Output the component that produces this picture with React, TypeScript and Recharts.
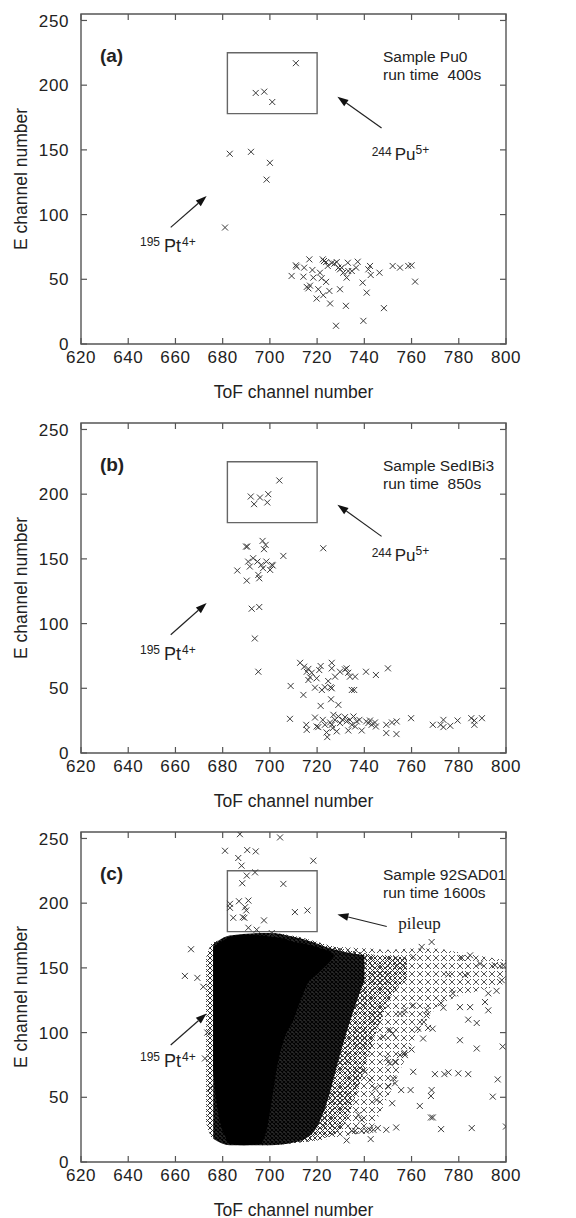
import React from "react";
import {
  Area, ComposedChart, ReferenceArea, ReferenceDot, ReferenceLine, Scatter, XAxis, YAxis,
} from "recharts";

const FONT = '"Liberation Sans", Arial, Helvetica, sans-serif';
const INK = "#222";
const FRAME = "#555";

const TOF_TICKS = [620, 640, 660, 680, 700, 720, 740, 760, 780, 800];
const E_TICKS = [0, 50, 100, 150, 200, 250];
const TOF_DOMAIN: [number, number] = [620, 800];
const E_DOMAIN: [number, number] = [0, 255];

// ROI box around the 244Pu5+ window (ToF, E)
const ROI_TOF = [682, 720];
const ROI_E = [178, 225];

// (a) Sample Pu0, 400 s — [ToF, E]
const PU0_PTS: [number, number][] = [
  [711, 217], [694, 194], [697.6, 195], [701, 187], [683, 147], [692, 148.5], [700, 140], [698.6, 127], [681, 90],
  [709.2, 52.6], [711.3, 59.7], [711, 60.8], [714.5, 59], [714.2, 52], [716.7, 65.4], [715.6, 44.1], [716.3, 43],
  [717, 45.1], [718, 57.2], [718.4, 51.3], [719.8, 35.1], [720.5, 42.3], [721.2, 55.1], [721.9, 50.8], [722.4, 65.4],
  [722.9, 64.1], [723.8, 63.3], [723.8, 48], [722.6, 37.7], [724.5, 60.3], [725.2, 41], [725.5, 31.3], [726.2, 62.6],
  [727.3, 62.1], [728, 14.1], [728.3, 63.3], [729, 59], [729.7, 57.7], [729.7, 42.3], [730.4, 59], [731.1, 55.1],
  [732.5, 51.3], [732.2, 29.5], [733, 62.8], [733.2, 56.4], [734.7, 56.4], [736.5, 59], [737.2, 63.6], [739.3, 47.4],
  [739.6, 17.9], [741, 39.7], [741.7, 57.7], [742.4, 60.3], [742.7, 53.3], [746.4, 55.1], [748.3, 27.7], [752, 60.3],
  [755.1, 59], [758.6, 60.3], [760, 60.8], [761.5, 48.2],
];

// (b) Sample SedIBi3, 850 s
const SEDIBI3_PTS: [number, number][] = [
  [704, 210.6], [691.9, 198.2], [693.3, 192.3], [695.8, 197.4], [699.3, 200], [698.9, 193.6],
  [689.9, 159.5], [690.4, 159.5], [696.9, 163.9], [698.2, 160.8], [697.5, 157.5], [705.7, 152.3], [722.6, 158.2],
  [686.2, 141], [690.2, 133.2], [690.8, 147.9], [691.5, 144.1], [692.9, 150.5], [694.7, 147.9], [695.1, 137.6],
  [695.5, 135], [696.4, 145.4], [697.1, 142.8], [698.5, 147.9], [700.8, 145.4], [701.2, 144.9], [700.1, 141.5],
  [692.3, 111.5], [695.5, 112.8], [693.6, 88.5], [695.1, 62.8],
  [708.8, 51.8], [714.2, 44.9], [712.8, 69.7], [714.5, 66.7], [715.6, 62.8], [716.3, 56.4], [717, 58.5], [716.3, 65],
  [717.7, 62], [719.1, 50.5], [719.8, 57.7], [720.9, 64.1], [721.5, 67.2], [722, 48.7], [721.5, 36.4], [723.3, 50.8],
  [724.7, 55.6], [726.2, 69.7], [726.2, 65.4], [725.7, 50.8], [726.2, 50], [725.9, 41.5], [727.6, 59], [729, 37.2],
  [729.7, 62.8], [731.8, 64.6], [732.5, 65.4], [733.2, 62], [733.9, 59], [734.7, 48.7], [735.7, 48.7], [736.1, 59],
  [740.7, 62.8], [744.9, 60.3], [750, 65.4],
  [708.5, 26.4], [715.4, 21.8], [715.6, 17.9], [719.1, 27.4], [719.8, 20.5], [720.5, 20], [722.4, 25.6], [723.3, 21.8],
  [724, 15.9], [724.3, 12.3], [725.5, 23.6], [726.2, 21.8], [726.6, 19.2], [726.9, 29.5], [727.6, 25.6], [728.3, 16.7],
  [729, 28.2], [729.7, 23.1], [730.8, 25.6], [731.8, 27.7], [732.5, 24.4], [733.2, 17.4], [733.9, 25.6], [734.7, 21.8],
  [735.4, 28.2], [736.1, 20.5], [736.8, 24.4], [737.9, 25.6], [738.9, 17.4], [740.8, 24.4], [741.7, 23.1], [742.4, 25.1],
  [743.1, 21.8], [744.5, 23.6], [744.9, 20.5], [749.3, 21.8], [749.3, 15.4], [751.7, 23.6], [753.6, 14.6], [753.7, 24.4],
  [759.8, 26.9], [769, 21.8], [772.3, 21.8], [773.5, 25.6], [773.5, 20], [776.4, 21], [779.5, 25.1], [785.3, 26.9],
  [786.6, 25.1], [786.6, 21.8], [789.8, 26.9],
];

// (c) Sample 92SAD01, 1600 s — isolated events outside the saturated band
const SAD01_PTS: [number, number][] = [
  [681, 240.5], [687.3, 253.3], [686.6, 234.9], [688, 229], [690.4, 241], [694, 240], [693.7, 223.8], [690.2, 221.3],
  [704.3, 250.8], [718.4, 232.8], [705.7, 214.9], [688.3, 215.4], [683.1, 199.5], [683.1, 196.4], [686.9, 201.5],
  [690.9, 202], [689.5, 196.9], [690, 194.4], [684.5, 188.7], [688.5, 189.2], [689.2, 188.7], [697.5, 186.7],
  [710.6, 193.1], [715.9, 194.4], [690.9, 181], [694.4, 179.5], [700.8, 176.9],
  [666.6, 164.4], [664, 143.8], [669.3, 142.3], [671.8, 135.4], [674.9, 56.9], [672.5, 80], [673.5, 100],
  [795.3, 152.1], [798.9, 152.1], [798.2, 140.5], [796, 132.3], [792.5, 130.3], [789, 153.3], [784.8, 159.7],
  [781.3, 157.7], [782.7, 144.4], [775.6, 144.9], [777.5, 130.3], [768.5, 170], [764.3, 166.2], [760.7, 158.5],
  [798.6, 89.2], [796.5, 63.8], [794.4, 50.5], [800, 27.4], [785.5, 26.2], [772.5, 25.4], [787.6, 87.7], [784, 110],
  [787.6, 107.4], [780.5, 94.1], [779.8, 68.5], [784, 67.9], [775.6, 69.2], [773.9, 67.9], [768.2, 34.4], [769, 34.4],
  [768.2, 51], [768.5, 55.6], [763.5, 43.3], [764.9, 95.4], [768.9, 103], [767, 103.6], [769.9, 67.9], [759.6, 55.6],
  [760.7, 69.7], [760, 86.9], [757, 84.4], [755.6, 55.6], [753.5, 26.7], [751.8, 45.4], [749.3, 24.9], [745.7, 26.2],
  [734.7, 24.1], [736.1, 24.1], [738.9, 24.1], [740.8, 24.1], [742.4, 24.9], [743.8, 24.9], [742.7, 17.7], [732.5, 16.7],
  [737.5, 36.4], [738.9, 32.6], [749.5, 80], [750.9, 76.2], [753, 77.4], [755.1, 82.6], [757.2, 82.6], [752.2, 64.6],
  [753, 60.8], [750.2, 58.2], [745.2, 47.9], [744.5, 56.9], [742.4, 63.3], [740.3, 69.7], [748, 96.7], [750.9, 101.8],
  [752, 99.2], [755.1, 114.6], [757.2, 117.2], [760.7, 121], [762.8, 103], [765.2, 108.2], [766.3, 113.3],
  [772.5, 122.8], [773.5, 119.2], [766.6, 117.2], [780.5, 119.7], [784.8, 119.7], [791.1, 123.6], [792.5, 117.2],
];

// (c) saturated band outlines read per ToF channel: [ToF, E low, E high]
const SAD01_CORE: [number, number, number][] = [
  [676, 70, 166], [677.5, 45, 168], [679, 30, 170], [681, 20, 172], [683, 14, 174], [689, 13, 175.6],
  [696, 14, 175], [699, 28, 174.5], [701, 50, 174], [703, 73, 173.5], [706, 95, 172.5], [710, 110, 170],
  [713, 125, 169], [716, 138, 168], [720, 145, 166], [724, 152, 163.6], [727, 158, 161],
];
const SAD01_DARK: [number, number, number][] = [
  [676, 18, 168], [683, 13, 175], [700, 13, 177], [710, 15, 174], [718, 22, 170], [724, 45, 166],
  [730, 85, 163], [736, 120, 161], [740, 140, 160],
];
const SAD01_MID: [number, number, number][] = [
  [673, 30, 158], [676, 18, 170], [700, 13, 177], [712, 15, 174], [722, 18, 169], [730, 25, 165],
  [738, 60, 162], [745, 100, 160], [752, 130, 159], [758, 140, 158],
];
const SAD01_THIN: [number, number, number][] = [
  [712, 15, 172], [722, 17, 168], [732, 20, 166], [742, 25, 165], [750, 50, 164], [760, 90, 165],
  [770, 118, 165], [780, 128, 162], [790, 133, 159], [800, 138, 156],
];

const toRows = (pts: [number, number][]) => pts.map(([tof, e]) => ({ tof, e }));
const toBand = (b: [number, number, number][]) => b.map(([tof, lo, hi]) => ({ tof, band: [lo, hi] }));

function Cross(props: any) {
  const { cx, cy } = props;
  if (cx == null || cy == null) return null;
  const s = 3;
  return (
    <path d={`M${cx - s},${cy - s}L${cx + s},${cy + s}M${cx + s},${cy - s}L${cx - s},${cy + s}`}
      stroke="#3a3a3a" strokeWidth={1} fill="none" />
  );
}

// arrow drawn along a data-space segment, head at the second point
function arrowShape(p: any) {
  const { x1, y1, x2, y2 } = p;
  const a = Math.atan2(y2 - y1, x2 - x1);
  const L = 11, W = 3.8;
  const bx = x2 - L * Math.cos(a), by = y2 - L * Math.sin(a);
  const nx = -Math.sin(a) * W, ny = Math.cos(a) * W;
  return (
    <g>
      <line x1={x1} y1={y1} x2={bx} y2={by} stroke={INK} strokeWidth={1.2} />
      <polygon points={`${x2},${y2} ${bx + nx},${by + ny} ${bx - nx},${by - ny}`} fill="#111" />
    </g>
  );
}

// inward ticks on both opposite sides of the frame
const xTickShape = (p: any) => {
  const top = Math.min(p.y1, p.y2), bot = Math.max(p.y1, p.y2);
  return (
    <g stroke={FRAME} strokeWidth={1.2}>
      <line x1={p.x1} y1={top} x2={p.x1} y2={top + 6} />
      <line x1={p.x1} y1={bot - 6} x2={p.x1} y2={bot} />
    </g>
  );
};
const yTickShape = (p: any) => {
  const l = Math.min(p.x1, p.x2), r = Math.max(p.x1, p.x2);
  return (
    <g stroke={FRAME} strokeWidth={1.2}>
      <line x1={l} y1={p.y1} x2={l + 6} y2={p.y1} />
      <line x1={r - 6} y1={p.y1} x2={r} y2={p.y1} />
    </g>
  );
};

interface PanelProps {
  top: number;
  tag: string;
  sample: string;
  runTime: string;
  pts: [number, number][];
  ptArrow: [number, number, number, number];
  ptLabel: [number, number];
  target: "pu" | "pileup";
  tArrow: [number, number, number, number];
  tLabel: [number, number];
  bands?: boolean;
}

function Panel(p: PanelProps) {
  const data = toRows(p.pts);
  return (
    <div style={{ position: "absolute", left: 0, top: p.top }}>
      <ComposedChart width={576} height={409} margin={{ top: 14, right: 70, bottom: 15, left: 21 }}>
        <defs>
          <pattern id="hatchDark" width={4} height={4} patternUnits="userSpaceOnUse">
            <rect width={4} height={4} fill="#2a2a2a" />
            <path d="M0,0L4,4M4,0L0,4" stroke="#000" strokeWidth={1.1} />
          </pattern>
          <pattern id="hatchMid" width={5} height={5} patternUnits="userSpaceOnUse">
            <path d="M0,0L5,5M5,0L0,5" stroke="#333" strokeWidth={1} />
          </pattern>
          <pattern id="hatchThin" width={8} height={8} patternUnits="userSpaceOnUse">
            <path d="M1,1L7,7M7,1L1,7" stroke="#555" strokeWidth={1} />
          </pattern>
        </defs>
        <XAxis type="number" dataKey="tof" domain={TOF_DOMAIN} ticks={TOF_TICKS} allowDataOverflow
          axisLine={false} tickLine={false} tickSize={0} tickMargin={7} height={50} interval={0}
          tick={{ fontSize: 17, fill: INK, fontFamily: FONT, letterSpacing: 0.6 }}
          label={{
            content: ({ viewBox }: any) => (
              <text x={viewBox.x + viewBox.width / 2} y={viewBox.y + 54} textAnchor="middle"
                fontSize={17.5} fill={INK} fontFamily={FONT}>ToF channel number</text>
            ),
          }} />
        <YAxis type="number" domain={E_DOMAIN} ticks={E_TICKS} allowDataOverflow width={60}
          axisLine={false} tickLine={false} tickSize={0} tickMargin={12} interval={0}
          tick={{ fontSize: 17, fill: INK, fontFamily: FONT, letterSpacing: 0.6 }}
          label={{
            content: ({ viewBox }: any) => {
              const x = viewBox.x + 6, y = viewBox.y + viewBox.height / 2;
              return (
                <text x={x} y={y} textAnchor="middle" transform={`rotate(-90, ${x}, ${y})`}
                  fontSize={17.5} fill={INK} fontFamily={FONT}>E channel number</text>
              );
            },
          }} />

        {p.bands && (
          <Area data={toBand(SAD01_THIN)} dataKey="band" type="monotone" stroke="none"
            fill="url(#hatchThin)" fillOpacity={1} isAnimationActive={false} />
        )}
        {p.bands && (
          <Area data={toBand(SAD01_MID)} dataKey="band" type="monotone" stroke="none"
            fill="url(#hatchMid)" fillOpacity={1} isAnimationActive={false} />
        )}
        {p.bands && (
          <Area data={toBand(SAD01_DARK)} dataKey="band" type="monotone" stroke="none"
            fill="url(#hatchDark)" fillOpacity={1} isAnimationActive={false} />
        )}
        {p.bands && (
          <Area data={toBand(SAD01_CORE)} dataKey="band" type="monotone" stroke="none"
            fill="#000" fillOpacity={1} isAnimationActive={false} />
        )}

        <Scatter data={data} dataKey="e" shape={<Cross />} isAnimationActive={false} />

        {TOF_TICKS.map((t) => <ReferenceLine key={"x" + t} x={t} shape={xTickShape} />)}
        {E_TICKS.map((t) => <ReferenceLine key={"y" + t} y={t} shape={yTickShape} />)}

        <ReferenceArea x1={ROI_TOF[0]} x2={ROI_TOF[1]} y1={ROI_E[0]} y2={ROI_E[1]}
          fill="none" stroke="#666" strokeWidth={1.4} fillOpacity={0} />

        <ReferenceLine segment={[{ x: p.ptArrow[0], y: p.ptArrow[1] }, { x: p.ptArrow[2], y: p.ptArrow[3] }]}
          shape={arrowShape} />
        <ReferenceLine segment={[{ x: p.tArrow[0], y: p.tArrow[1] }, { x: p.tArrow[2], y: p.tArrow[3] }]}
          shape={arrowShape} />

        <ReferenceDot x={p.ptLabel[0]} y={p.ptLabel[1]} shape={(d: any) => (
          <text x={d.cx} y={d.cy} fill={INK} fontFamily={FONT}>
            <tspan fontSize={12} dy={-6}>195</tspan>
            <tspan fontSize={18} dx={4} dy={6}>Pt</tspan>
            <tspan fontSize={12} dx={1} dy={-6}>4+</tspan>
          </text>
        )} />
        <ReferenceDot x={p.tLabel[0]} y={p.tLabel[1]} shape={(d: any) => p.target === "pu" ? (
          <text x={d.cx} y={d.cy} fill={INK} fontFamily={FONT}>
            <tspan fontSize={12} dy={-4}>244</tspan>
            <tspan fontSize={17} dx={3} dy={4}>Pu</tspan>
            <tspan fontSize={12} dx={0} dy={-6}>5+</tspan>
          </text>
        ) : (
          <text x={d.cx} y={d.cy} fill={INK} fontSize={17}
            fontFamily='"Liberation Serif", "Times New Roman", serif'>pileup</text>
        )} />

        <ReferenceDot x={628} y={217.6} shape={(d: any) => (
          <text x={d.cx} y={d.cy} fontSize={19} fontWeight="bold" fill={INK} fontFamily={FONT}>{p.tag}</text>
        )} />
        <ReferenceDot x={747.9} y={218} shape={(d: any) => (
          <text x={d.cx} y={d.cy} fontSize={15.5} fill={INK} fontFamily={FONT}>
            <tspan x={d.cx}>{p.sample}</tspan>
            <tspan x={d.cx} dy={18} style={{ whiteSpace: "pre" }}>{p.runTime}</tspan>
          </text>
        )} />

        <ReferenceArea x1={620} x2={800} y1={0} y2={255} fill="none" fillOpacity={0}
          stroke={FRAME} strokeWidth={1.4} />
      </ComposedChart>
    </div>
  );
}

export default function App() {
  return (
    <div style={{ position: "absolute", left: 0, top: 0, width: 576, height: 1218, background: "#fff" }}>
      <Panel top={0} tag="(a)" sample="Sample Pu0" runTime={"run time  400s"} pts={PU0_PTS}
        ptArrow={[658, 90.1, 673.2, 114.3]} ptLabel={[645, 70.8]}
        target="pu" tArrow={[747.3, 166.9, 728.6, 191.1]} tLabel={[743.1, 142.2]} />
      <Panel top={409.3} tag="(b)" sample="Sample SedIBi3" runTime={"run time  850s"} pts={SEDIBI3_PTS}
        ptArrow={[658, 91.4, 673.2, 115.9]} ptLabel={[645, 72]}
        target="pu" tArrow={[747.3, 167.4, 728.6, 191.9]} tLabel={[743.1, 148.6]} />
      <Panel top={818.3} tag="(c)" sample="Sample 92SAD01" runTime={"run time 1600s"} pts={SAD01_PTS}
        ptArrow={[658, 90.4, 673.2, 114.8]} ptLabel={[645, 73.5]}
        target="pileup" tArrow={[749.5, 182, 728.6, 191.3]} tLabel={[754.4, 180.3]} bands />
    </div>
  );
}
